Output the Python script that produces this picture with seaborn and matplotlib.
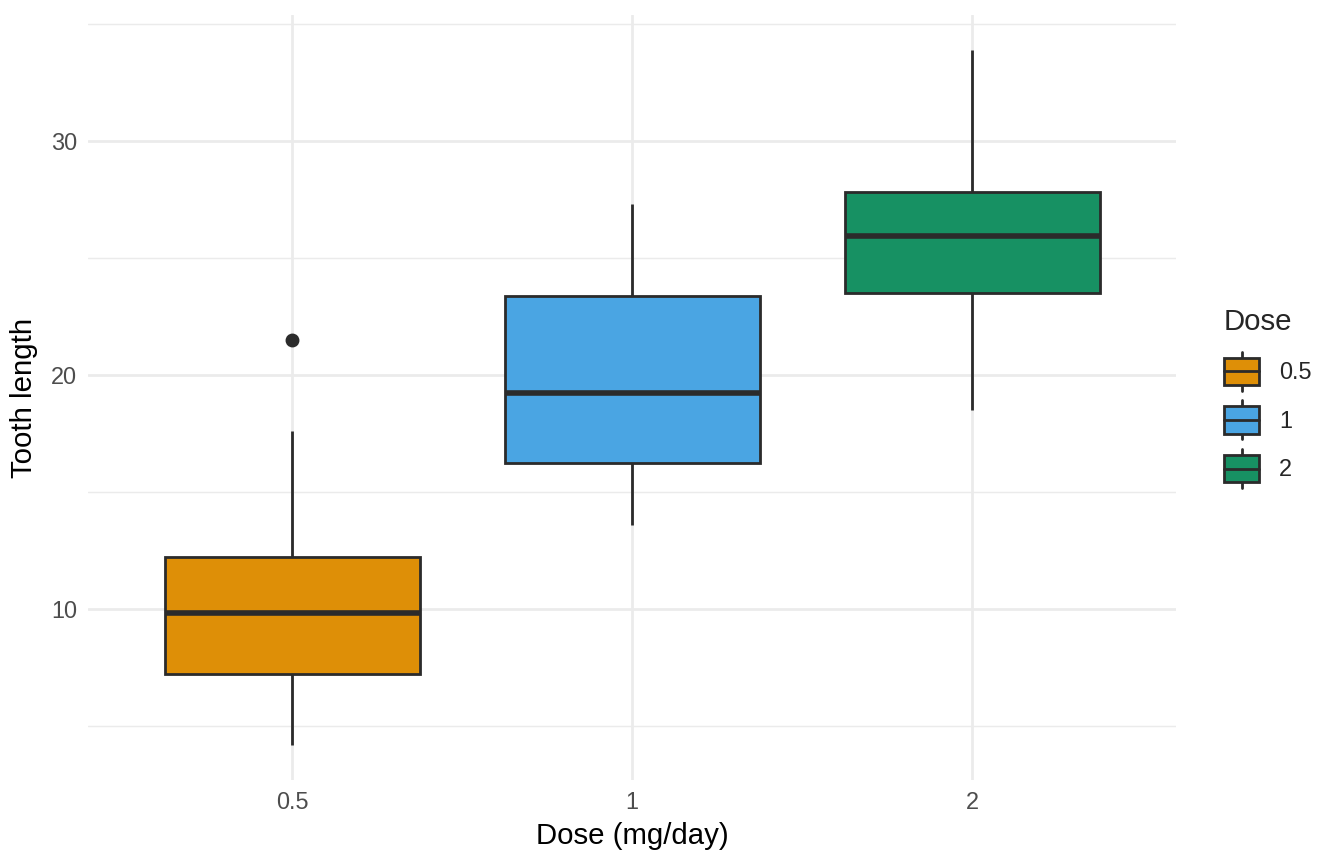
import pandas as pd
import seaborn as sns
import matplotlib.pyplot as plt
from matplotlib.patches import Rectangle, Patch
from matplotlib.lines import Line2D
from matplotlib.legend_handler import HandlerBase

# ToothGrowth: tooth length per dose (mg/day)
dose_levels = ["0.5", "1", "2"]
len_05 = [4.2, 11.5, 7.3, 5.8, 6.4, 10.0, 11.2, 11.2, 5.2, 7.0,
          15.2, 21.5, 17.6, 9.7, 14.5, 10.0, 8.2, 9.4, 16.5, 9.7]
len_1 = [16.5, 16.5, 15.2, 17.3, 22.5, 17.3, 13.6, 14.5, 18.8, 15.5,
         19.7, 23.3, 23.6, 26.4, 20.0, 25.2, 25.8, 21.2, 14.5, 27.3]
len_2 = [23.6, 18.5, 33.9, 25.5, 26.4, 32.5, 26.7, 21.5, 23.3, 29.5,
         25.5, 26.4, 22.4, 24.5, 24.8, 30.9, 26.4, 27.3, 29.4, 23.0]
colors = ["#DE8F07", "#4AA5E3", "#179163"]

df = pd.DataFrame({
    "dose": ["0.5"] * len(len_05) + ["1"] * len(len_1) + ["2"] * len(len_2),
    "len": len_05 + len_1 + len_2,
})

EDGE = "#2b2b2b"
GRID = "#EBEBEB"

sns.set_theme(style="white")
plt.rcParams["font.family"] = ["Liberation Sans", "DejaVu Sans"]

fig = plt.figure(figsize=(7, 4.5), dpi=192)
ax = fig.add_axes([88 / 1344, 1 - 780 / 864, (1176 - 88) / 1344, (780 - 15) / 864])

sns.boxplot(data=df, x="dose", y="len", hue="dose", order=dose_levels,
            hue_order=dose_levels, palette=colors, saturation=1, width=0.75,
            linewidth=1.05, linecolor=EDGE, showcaps=False, legend=False, ax=ax,
            medianprops=dict(linewidth=2.1, color=EDGE),
            flierprops=dict(marker="o", markersize=4.2, markerfacecolor=EDGE,
                            markeredgecolor=EDGE))

ax.set_xlim(-0.6, 2.6)
ax.set_ylim(2.715, 35.385)
ax.set_yticks([10, 20, 30])
ax.set_yticks([5, 15, 25, 35], minor=True)
ax.grid(True, which="major", color=GRID, linewidth=1.05, zorder=0)
ax.grid(True, which="minor", axis="y", color=GRID, linewidth=0.55, zorder=0)
ax.set_axisbelow(True)
for s in ax.spines.values():
    s.set_visible(False)
ax.tick_params(which="both", length=0, labelsize=8.8, labelcolor="#4D4D4D", pad=4)
ax.set_xlabel("Dose (mg/day)", fontsize=11, color="black", labelpad=3)
ax.set_ylabel("Tooth length", fontsize=11, color="black", labelpad=5)


class HandlerBox(HandlerBase):
    def create_artists(self, legend, orig_handle, xdescent, ydescent, width,
                       height, fontsize, trans):
        cx = width / 2 - xdescent
        y0 = -ydescent
        whisk = Line2D([cx, cx], [y0 - height * 0.22, y0 + height * 1.22],
                       color=EDGE, linewidth=1.05, transform=trans)
        box = Rectangle((-xdescent, y0), width, height,
                        facecolor=orig_handle.get_facecolor(), edgecolor=EDGE,
                        linewidth=1.05, transform=trans)
        med = Line2D([-xdescent, width - xdescent], [y0 + height / 2] * 2,
                     color=EDGE, linewidth=1.05, transform=trans)
        return [whisk, box, med]


handles = [Patch(facecolor=c) for c in colors]
leg = fig.legend(handles, dose_levels, title="Dose", loc="upper left",
                 bbox_to_anchor=(1203 / 1344, 1 - 287 / 864), frameon=False,
                 handler_map={Patch: HandlerBox()}, fontsize=8.8,
                 title_fontsize=11, handlelength=1.5, handleheight=1.4,
                 labelspacing=0.92, handletextpad=0.85, alignment="left")

fig.savefig("out.png", dpi=192)
